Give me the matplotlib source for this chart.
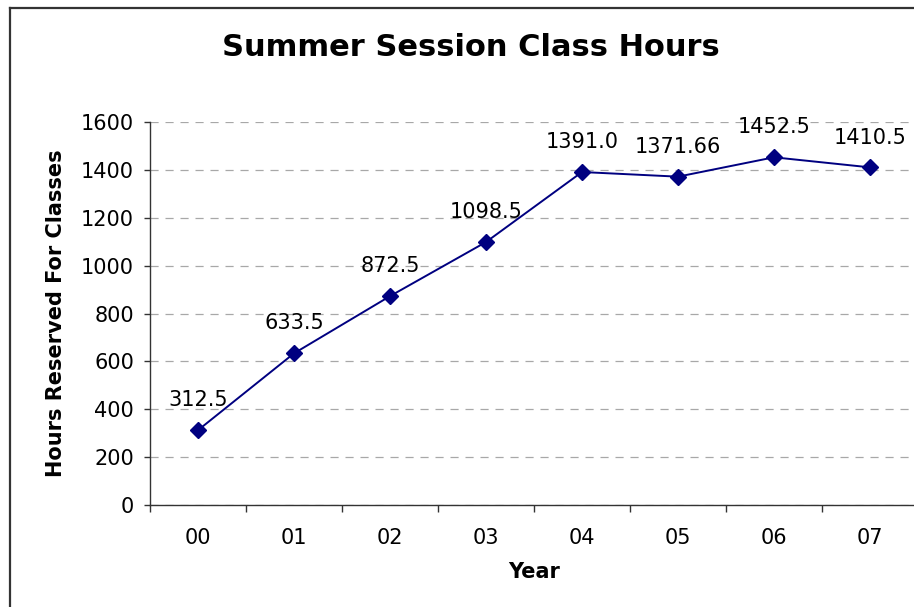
import numpy as np
import matplotlib
matplotlib.use('Agg')
import matplotlib.pyplot as plt
from matplotlib.lines import Line2D

# data
years = ['00', '01', '02', '03', '04', '05', '06', '07']
hours = [312.5, 633.5, 872.5, 1098.5, 1391.0, 1371.66, 1452.5, 1410.5]
hour_labels = ['312.5', '633.5', '872.5', '1098.5', '1391.0', '1371.66', '1452.5', '1410.5']

plt.rcParams['font.family'] = 'DejaVu Sans'

W, H = 914, 607
fig = plt.figure(figsize=(W / 100, H / 100), dpi=100)
fig.patch.set_facecolor('white')

# outer chart border (right and bottom are cut off in the original)
fig.add_artist(Line2D([10 / W, 10 / W], [-0.05, 1 - 8 / H], transform=fig.transFigure,
                      color='#333333', lw=1.6))
fig.add_artist(Line2D([10 / W, 1.05], [1 - 8 / H, 1 - 8 / H], transform=fig.transFigure,
                      color='#333333', lw=1.6))

ax = fig.add_axes([150 / W, (H - 505) / H, 768 / W, 383 / H])

x = np.arange(len(years))
ax.plot(x, hours, color='#000080', lw=1.4, marker='D', markersize=8,
        markerfacecolor='#000080', markeredgecolor='#000080', zorder=3)

for xi, yi, txt in zip(x, hours, hour_labels):
    ax.annotate(txt, (xi, yi), xytext=(0, 21.5), textcoords='offset points',
                ha='center', va='center', fontsize=15, color='black')

ax.set_xlim(-0.5, len(years) - 0.5)
ax.set_ylim(0, 1600)
ax.set_yticks(np.arange(0, 1601, 200))
ax.yaxis.grid(True, linestyle=(0, (6.5, 5.5)), color='#a8a8a8', lw=0.9)
ax.set_axisbelow(True)

# tick marks at category edges, labels in the middle
ax.set_xticks(np.arange(-0.5, len(years), 1.0))
ax.set_xticklabels([])
ax.set_xticks(x, minor=True)
ax.set_xticklabels(years, minor=True, fontsize=15)
ax.tick_params(axis='x', which='major', length=5, width=1, color='#333333', direction='out')
ax.tick_params(axis='x', which='minor', length=0, pad=16.5)
ax.tick_params(axis='y', length=4.5, width=1, color='#333333', pad=7, labelsize=15)

for s in ['top', 'right']:
    ax.spines[s].set_visible(False)
for s in ['left', 'bottom']:
    ax.spines[s].set_color('#333333')
    ax.spines[s].set_linewidth(1.0)

ax.set_xlabel('Year', fontsize=15, fontweight='bold', labelpad=10)
ax.set_ylabel('Hours Reserved For Classes', fontsize=15, fontweight='bold', labelpad=11)

fig.text(471 / W, 1 - 48 / H, 'Summer Session Class Hours', fontsize=22,
         fontweight='bold', ha='center', va='center')

fig.savefig('out.png', dpi=100)
